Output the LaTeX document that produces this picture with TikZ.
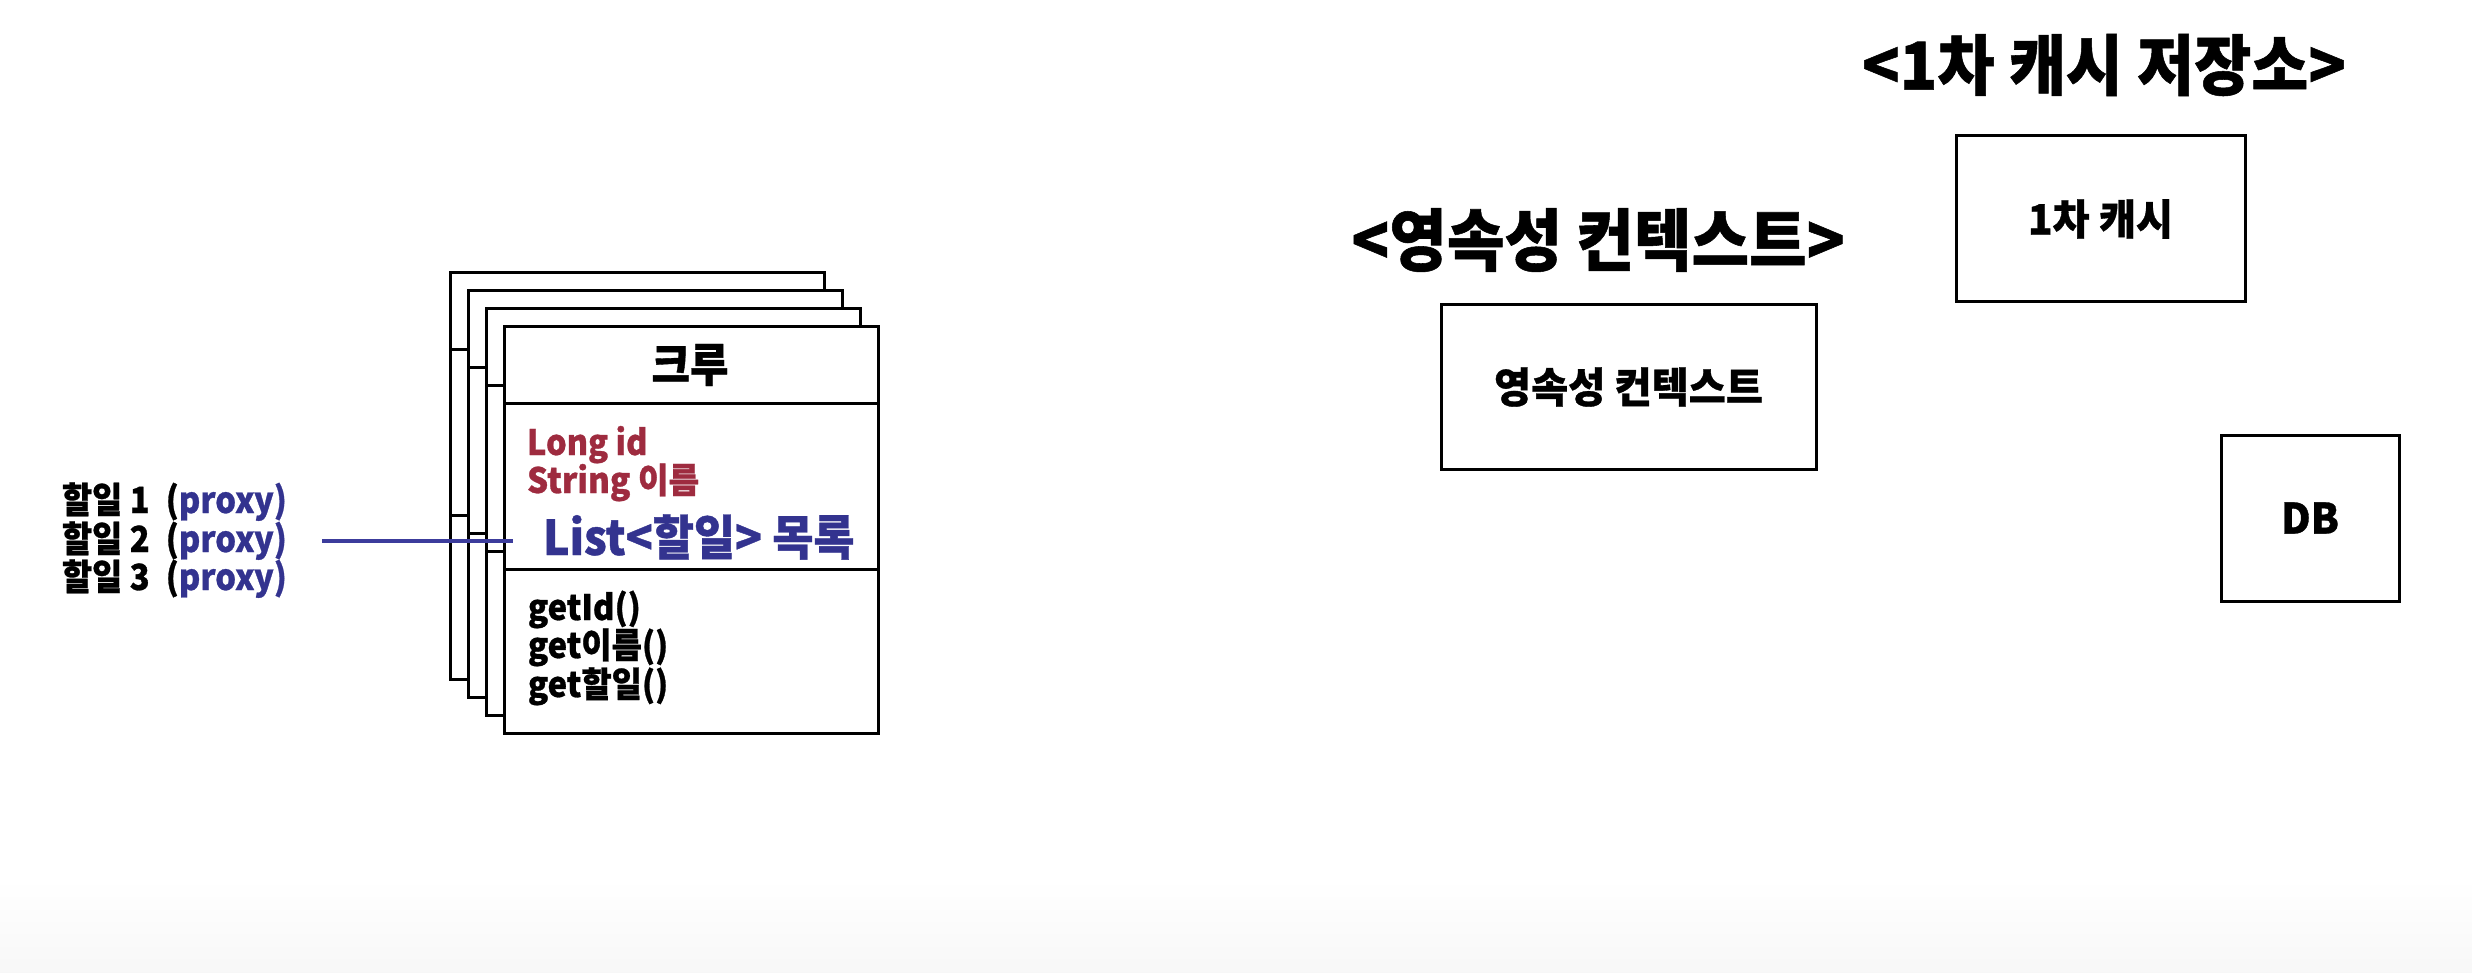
\documentclass[tikz,border=0pt]{standalone}
\usepackage{graphicx}
\usepackage{fontspec}
\newfontfamily\kr{Noto Sans CJK KR}[FakeBold=0.8]
\newcommand{\krt}[3]{\scalebox{#2}[1]{\kr\bfseries\fontsize{#1}{#1}\selectfont #3}}
\definecolor{rd}{HTML}{9E2B3F}
\definecolor{bl}{HTML}{33338F}
\definecolor{ln}{HTML}{3C3C9C}
\begin{document}
\begin{tikzpicture}[x=1pt,y=-1pt,
  every node/.style={inner sep=0pt, outer sep=0pt},
  box/.style={draw=black, line width=3pt, fill=white},
  sep/.style={draw=black, line width=3pt}]
\useasboundingbox (0,0) rectangle (2472,973);
\shade[top color=white, bottom color=black!3] (0,878) rectangle (2472,973);

% stacked crew boxes
\foreach \d/\n in {54/c3,36/c2,18/c1,0/c0}{
  \node[box, minimum width=374pt, minimum height=406pt] (\n) at (691-\d,530-\d) {};
  \draw[sep] (\n.north west) ++(0,76) -- ++(374,0);
  \draw[sep] (\n.north west) ++(0,242) -- ++(374,0);
}
\node (crew) at (690,365) {\krt{46}{0.91}{크루}};
\node[anchor=base west] (f1) at (527,455) {\krt{35}{0.93}{\color{rd}Long id}};
\node[anchor=base west] (f2) at (527,493) {\krt{35}{0.95}{\color{rd}String 이름}};
\node[anchor=base west] (f3) at (543,555) {\krt{48}{0.93}{\color{bl}List<할일> 목록}};
\node[anchor=base west] (m1) at (528,620) {\krt{35}{0.94}{getId()}};
\node[anchor=base west] (m2) at (528,658) {\krt{35}{0.94}{get이름()}};
\node[anchor=base west] (m3) at (528,697) {\krt{35}{0.94}{get할일()}};

% proxies
\node[anchor=base west] (p1) at (62,513) {\krt{36}{0.91}{\makebox[114pt][l]{할일 1}(\textcolor{bl}{proxy)}}};
\node[anchor=base west] (p2) at (62,552) {\krt{36}{0.91}{\makebox[114pt][l]{할일 2}(\textcolor{bl}{proxy)}}};
\node[anchor=base west] (p3) at (62,590) {\krt{36}{0.91}{\makebox[114pt][l]{할일 3}(\textcolor{bl}{proxy)}}};
\coordinate (l1) at (322,541);
\coordinate (l2) at (513,541);
\draw[ln, line width=4pt] (l1) -- (l2);

% right side
\node (t1) at (1598,240) {\krt{68}{0.92}{<영속성 컨텍스트>}};
\node[box, minimum width=375pt, minimum height=164pt] (pc) at (1628.5,387) {\krt{42}{0.96}{영속성 컨텍스트}};
\node (t2) at (2104,65) {\krt{66}{0.94}{<1차 캐시 저장소>}};
\node[box, minimum width=289pt, minimum height=166pt] (cache) at (2100.5,219) {\krt{42}{0.96}{1차 캐시}};
\node[box, minimum width=178pt, minimum height=166pt] (db) at (2310,518) {\krt{42}{0.97}{DB}};
\end{tikzpicture}
\end{document}
